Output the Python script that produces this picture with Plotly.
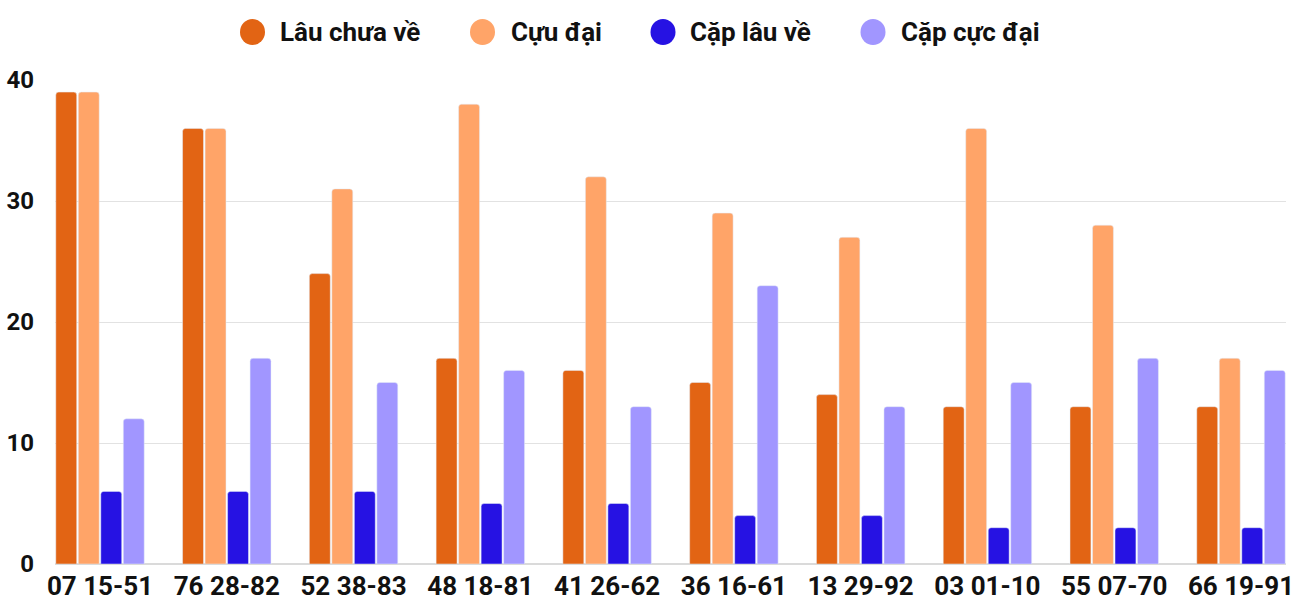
import plotly.graph_objects as go

categories = ["07 15-51", "76 28-82", "52 38-83", "48 18-81", "41 26-62",
              "36 16-61", "13 29-92", "03 01-10", "55 07-70", "66 19-91"]
lau_chua_ve = [39, 36, 24, 17, 16, 15, 14, 13, 13, 13]
cuu_dai = [39, 36, 31, 38, 32, 29, 27, 36, 28, 17]
cap_lau_ve = [6, 6, 6, 5, 5, 4, 4, 3, 3, 3]
cap_cuc_dai = [12, 17, 15, 16, 13, 23, 13, 15, 17, 16]

series_names = ["Lâu chưa về", "Cựu đại", "Cặp lâu về", "Cặp cực đại"]
series_values = [lau_chua_ve, cuu_dai, cap_lau_ve, cap_cuc_dai]
colors = ["#E26414", "#FFA468", "#2612E3", "#A196FF"]

W, H = 1300, 600
ml, mr, mt, mb = 55, 14, 80, 36
pw, ph = W - ml - mr, H - mt - mb

fig = go.Figure()
for name, vals, col in zip(series_names, series_values, colors):
    fig.add_trace(go.Bar(x=categories, y=vals, name=name, marker_color=col,
                         showlegend=False))

# manual legend (circle markers + text)
legend_circle_x = [252.5, 482.5, 663, 873]
legend_text_x = [278, 509, 688, 899]
legend_y = 32
shapes = []
annotations = []
for name, col, cx, tx in zip(series_names, colors, legend_circle_x, legend_text_x):
    px = (cx - ml) / pw
    py = (H - mb - legend_y) / ph
    shapes.append(dict(type="circle", xref="paper", yref="paper",
                       xsizemode="pixel", ysizemode="pixel",
                       xanchor=px, yanchor=py, x0=-12.5, x1=12.5, y0=-13, y1=13,
                       fillcolor=col, line=dict(width=0)))
    annotations.append(dict(xref="paper", yref="paper", x=(tx - ml) / pw, y=py,
                            xanchor="left", yanchor="middle", showarrow=False,
                            text=name,
                            font=dict(family="Roboto", size=26, color="#111111", weight="bold")))

xtickfont = dict(family="Roboto", size=26, color="#111111", weight="bold")
ytickfont = dict(family="Roboto", size=24, color="#111111", weight="bold")

fig.update_layout(
    width=W, height=H,
    margin=dict(l=ml, r=mr, t=mt, b=mb, pad=0),
    paper_bgcolor="white", plot_bgcolor="white",
    barmode="group", bargap=0.29, bargroupgap=0.07, barcornerradius=3,
    shapes=shapes, annotations=annotations,
    xaxis=dict(type="category", range=[-0.355, 9.355], showgrid=False,
               showline=False, zeroline=False, ticks="", automargin=False,
               tickfont=xtickfont, ticklabelstandoff=4),
    yaxis=dict(range=[0, 40], tickvals=[0, 10, 20, 30, 40], showgrid=True,
               gridcolor="#E2E2E2", gridwidth=1, zeroline=True, automargin=False,
               zerolinecolor="#DADADA", zerolinewidth=2, showline=False, ticks="",
               tickfont=ytickfont, ticklabelstandoff=20),
)

fig.write_html("out.html")
